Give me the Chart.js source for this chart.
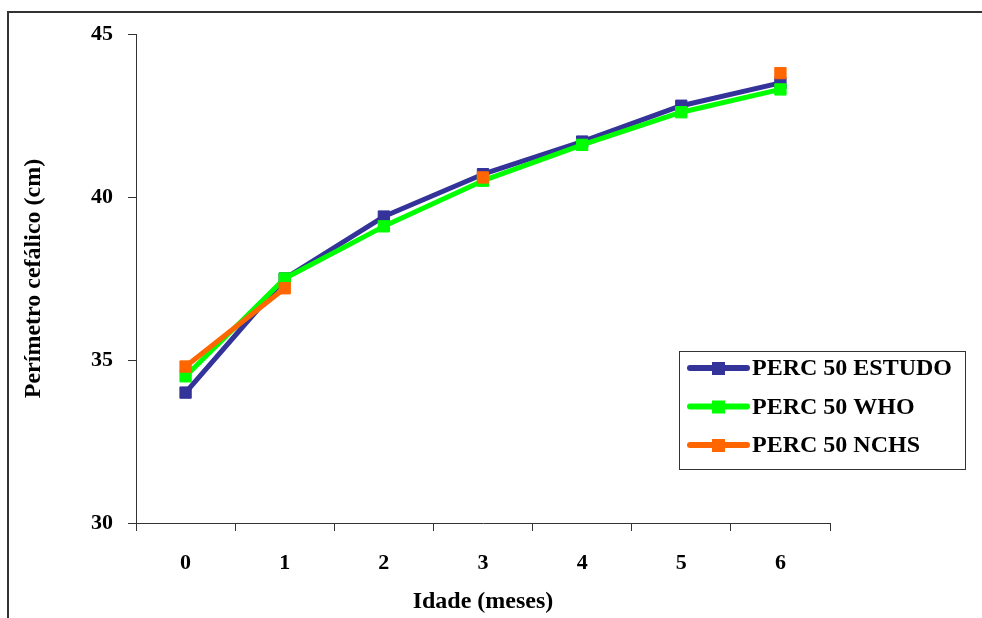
<!DOCTYPE html>
<html>
<head>
<meta charset="utf-8">
<script src="https://cdn.jsdelivr.net/npm/chart.js@4.4.1/dist/chart.umd.min.js"></script>
<style>
  html, body { margin: 0; padding: 0; background: #fff; }
  #wrap { width: 982px; height: 618px; }
</style>
</head>
<body>
<div id="wrap"><canvas id="chart-line" width="982" height="618"></canvas></div>
<script>
// dados
var idade = ["0", "1", "2", "3", "4", "5", "6"];
var estudo = [34.0, 37.5, 39.4, 40.7, 41.7, 42.8, 43.5];
var who = [34.5, 37.5, 39.1, 40.5, 41.6, 42.6, 43.3];
var nchs = [34.8, 37.2, null, 40.6, null, null, 43.8];
var yTicks = [30, 35, 40, 45];

var serif = "'Liberation Serif', 'Times New Roman', serif";

// moldura externa
var borderPlugin = {
    id: 'moldura',
    beforeDraw: function (chart) {
        var c = chart.ctx;
        c.save();
        c.strokeStyle = '#333';
        c.lineWidth = 2;
        c.beginPath();
        c.moveTo(8, 618);
        c.lineTo(8, 12);
        c.lineTo(982, 12);
        c.stroke();
        c.restore();
    }
};

// legenda dentro da area
var legendPlugin = {
    id: 'legenda',
    afterDraw: function (chart) {
        var c = chart.ctx;
        var x0 = 679, y0 = 351, w = 286, h = 118;
        c.save();
        c.fillStyle = '#fff';
        c.fillRect(x0, y0, w, h);
        c.strokeStyle = '#333';
        c.lineWidth = 1;
        c.strokeRect(x0 + 0.5, y0 + 0.5, w, h);
        c.font = 'bold 24px ' + serif;
        c.textBaseline = 'middle';
        c.textAlign = 'left';
        chart.data.datasets.forEach(function (ds, i) {
            var y = 368 + i * 38.5;
            c.strokeStyle = ds.borderColor;
            c.lineWidth = 6;
            c.lineCap = 'round';
            c.beginPath();
            c.moveTo(690, y);
            c.lineTo(747, y);
            c.stroke();
            c.fillStyle = ds.borderColor;
            c.fillRect(712, y - 6, 13, 13);
            c.fillStyle = '#000';
            c.fillText(ds.label, 752, y + 1);
        });
        c.restore();
    }
};

var ctx = document.getElementById("chart-line").getContext("2d");

new Chart(ctx, {
    type: "line",
    data: {
        labels: idade,
        datasets: [{
            label: "PERC 50 ESTUDO",
            data: estudo,
            borderColor: "#333399",
            backgroundColor: "#333399",
            borderWidth: 5,
            pointStyle: 'rect',
            pointRadius: 8,
            pointBorderWidth: 1,
            order: 3
        },
        {
            label: "PERC 50 WHO",
            data: who,
            borderColor: "#00ff00",
            backgroundColor: "#00ff00",
            borderWidth: 5,
            pointStyle: 'rect',
            pointRadius: 8,
            pointBorderWidth: 1,
            order: 2
        },
        {
            label: "PERC 50 NCHS",
            data: nchs,
            borderColor: "#ff6600",
            backgroundColor: "#ff6600",
            borderWidth: 5,
            pointStyle: 'rect',
            pointRadius: 8,
            pointBorderWidth: 1,
            spanGaps: false,
            order: 1
        }],
    },
    plugins: [borderPlugin, legendPlugin],
    options: {
        responsive: false,
        animation: false,
        devicePixelRatio: 1,
        layout: {
            padding: { top: 34, right: 152, left: 0, bottom: 0 }
        },
        plugins: {
            legend: { display: false },
            tooltip: { enabled: false }
        },
        elements: {
            line: { tension: 0, borderCapStyle: 'round', borderJoinStyle: 'round' }
        },
        scales: {
            y: {
                min: 30,
                max: 45,
                afterFit: function (scale) { scale.width = 136; },
                afterBuildTicks: function (scale) {
                    scale.ticks = yTicks.map(function (v) { return { value: v }; });
                },
                border: { display: true, color: '#333', width: 1 },
                grid: {
                    display: true,
                    drawOnChartArea: false,
                    drawTicks: true,
                    tickLength: 8,
                    color: '#333'
                },
                ticks: {
                    padding: 15,
                    color: '#000',
                    font: { size: 22, weight: 'bold', family: serif }
                },
                title: {
                    display: true,
                    text: 'Perímetro cefálico (cm)',
                    color: '#000',
                    padding: { top: 19, bottom: 0 },
                    font: { size: 24, weight: 'bold', family: serif }
                }
            },
            x: {
                offset: true,
                afterFit: function (scale) { scale.height = 95; },
                border: { display: true, color: '#333', width: 1 },
                grid: {
                    display: true,
                    offset: true,
                    drawOnChartArea: false,
                    drawTicks: true,
                    tickLength: 8,
                    color: '#333'
                },
                ticks: {
                    padding: 19,
                    color: '#000',
                    maxRotation: 0,
                    font: { size: 22, weight: 'bold', family: serif }
                },
                title: {
                    display: true,
                    text: 'Idade (meses)',
                    color: '#000',
                    padding: { top: 0, bottom: 2 },
                    font: { size: 24, weight: 'bold', family: serif }
                }
            },
        },
    },
});
</script>
</body>
</html>
